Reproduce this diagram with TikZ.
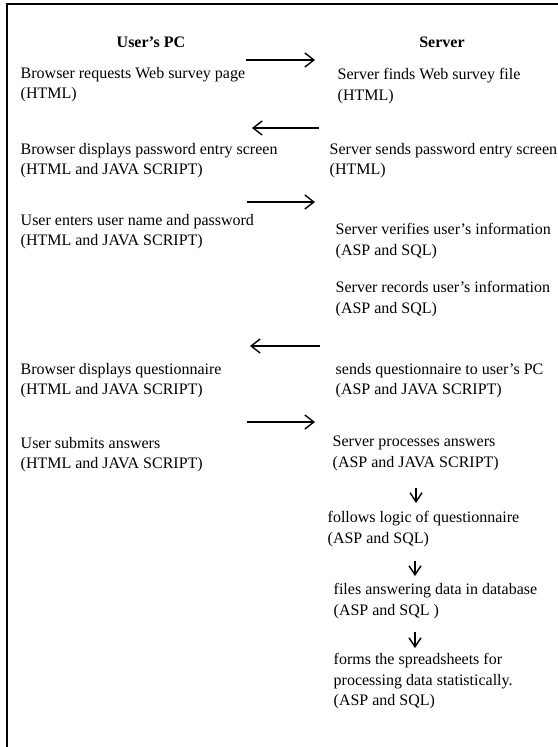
\documentclass[tikz,border=0pt]{standalone}
\usepackage{fontspec}
\setmainfont{Liberation Serif}
\usetikzlibrary{arrows.meta}

\begin{document}
\begin{tikzpicture}[x=1pt,y=-1pt,>={Straight Barb[length=9pt,width=14pt]},line width=1.4pt,
  step text/.style={anchor=north west,inner sep=0pt,align=left,
    font=\fontsize{16}{20.5}\selectfont,execute at begin node=\strut},
  head text/.style={anchor=base,inner sep=0pt,font=\fontsize{16}{20.5}\selectfont\bfseries},
  flow/.style={->},
  down flow/.style={-{Straight Barb[length=9pt,width=12pt]}}]

  \useasboundingbox (0,0) rectangle (557,747);
  \draw[line width=1.8pt] (7,4) rectangle (600,800);

  \node[head text] (pc) at (151,47) {User’s PC};
  \node[head text] (srv) at (442,47) {Server};

  % user's PC side
  \node[step text] (req) at (20,66.6) {Browser requests Web survey page\\(HTML)};
  \node[step text] (disp) at (20,142.6) {Browser displays password entry screen\\(HTML and JAVA SCRIPT)};
  \node[step text] (enter) at (20,213.6) {User enters user name and password\\(HTML and JAVA SCRIPT)};
  \node[step text] (dispq) at (20,362.6) {Browser displays questionnaire\\(HTML and JAVA SCRIPT)};
  \node[step text] (submit) at (20,436.6) {User submits answers\\(HTML and JAVA SCRIPT)};

  % server side
  \node[step text] (find) at (337,67.6) {Server finds Web survey file\\(HTML)};
  \node[step text] (send) at (329,142.6) {Server sends password entry screen\\(HTML)};
  \node[step text] (verify) at (335,222.6) {Server verifies user’s information\\(ASP and SQL)};
  \node[step text] (record) at (335,280.6) {Server records user’s information\\(ASP and SQL)};
  \node[step text] (sendq) at (335,362.6) {sends questionnaire to user’s PC\\(ASP and JAVA SCRIPT)};
  \node[step text] (proc) at (332,435.6) {Server processes answers\\(ASP and JAVA SCRIPT)};
  \node[step text] (logic) at (327,510.6) {follows logic of questionnaire\\(ASP and SQL)};
  \node[step text] (files) at (333,582.6) {files answering data in database\\(ASP and SQL )};
  \node[step text] (forms) at (333,652.6) {forms the spreadsheets for\\processing data statistically.\\(ASP and SQL)};

  % arrow ends
  \coordinate (a1s) at (246,60);  \coordinate (a1e) at (315,60);
  \coordinate (a2s) at (319,128); \coordinate (a2e) at (252,128);
  \coordinate (a3s) at (247,202); \coordinate (a3e) at (315,202);
  \coordinate (a4s) at (320,346); \coordinate (a4e) at (250,346);
  \coordinate (a5s) at (247,422); \coordinate (a5e) at (315,422);
  \coordinate (d1s) at (416,488); \coordinate (d1e) at (416,503);
  \coordinate (d2s) at (415,561); \coordinate (d2e) at (415,576);
  \coordinate (d3s) at (415,632); \coordinate (d3e) at (415,648);

  \draw[flow] (a1s) -- (a1e);
  \draw[flow] (a2s) -- (a2e);
  \draw[flow] (a3s) -- (a3e);
  \draw[flow] (a4s) -- (a4e);
  \draw[flow] (a5s) -- (a5e);
  \draw[down flow] (d1s) -- (d1e);
  \draw[down flow] (d2s) -- (d2e);
  \draw[down flow] (d3s) -- (d3e);
\end{tikzpicture}
\end{document}
